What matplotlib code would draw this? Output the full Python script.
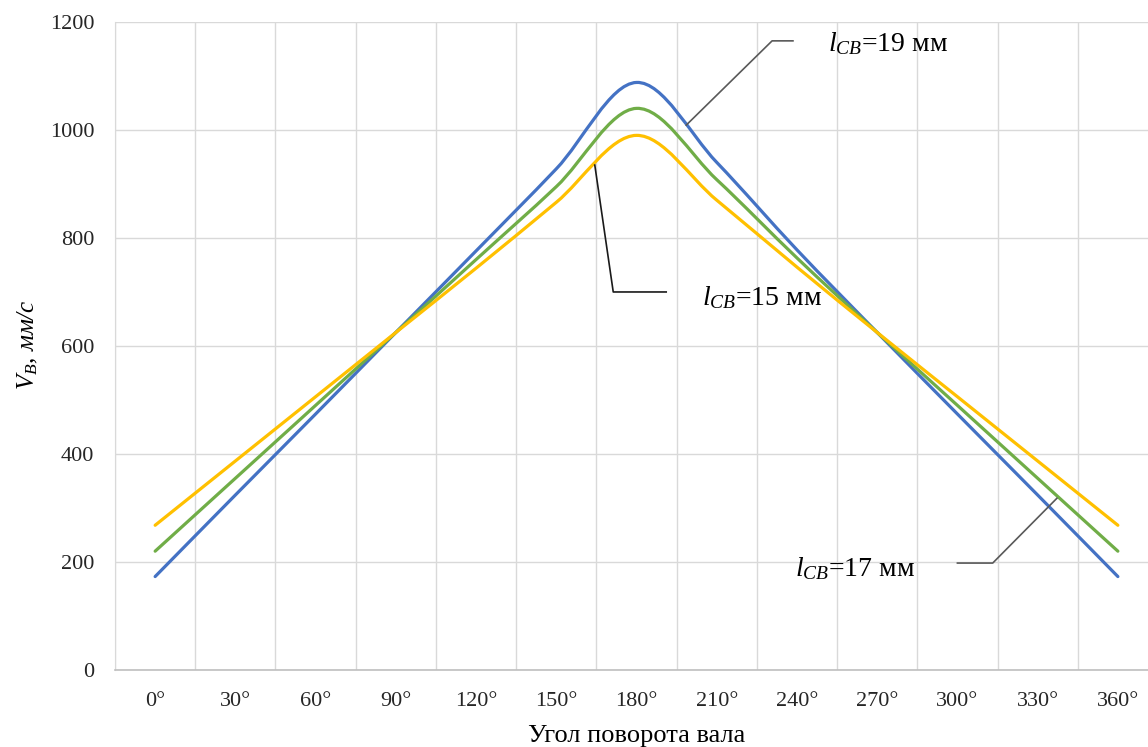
import numpy as np
import matplotlib.pyplot as plt
from matplotlib.path import Path
from matplotlib.patches import PathPatch

plt.rcParams['font.family'] = ['Liberation Serif', 'DejaVu Serif']
plt.rcParams['mathtext.fontset'] = 'custom'
plt.rcParams['mathtext.rm'] = 'Liberation Serif'
plt.rcParams['mathtext.it'] = 'Liberation Serif:italic'

angles = ['0°', '30°', '60°', '90°', '120°', '150°', '180°',
          '210°', '240°', '270°', '300°', '330°', '360°']
v_19 = [173, 324, 474, 625, 776, 928, 1088, 940, 778, 625, 474, 324, 173]
v_17 = [220, 355, 490, 625, 760, 895, 1040, 908, 763, 625, 490, 355, 220]
v_15 = [268, 387, 506, 625, 744, 866, 990, 870, 746, 625, 506, 387, 268]

colors = {'19': '#4472C4', '17': '#70AD47', '15': '#FFC000'}


def smooth_path(x, y):
    # Excel-style smoothed line: cubic Bezier segments, Catmull-Rom control points
    x = np.asarray(x, float)
    y = np.asarray(y, float)
    n = len(x)
    verts = [(x[0], y[0])]
    codes = [Path.MOVETO]
    for i in range(n - 1):
        p0 = i - 1 if i > 0 else i
        p3 = i + 2 if i + 2 < n else i + 1
        c1 = (x[i] + (x[i + 1] - x[p0]) / 6, y[i] + (y[i + 1] - y[p0]) / 6)
        c2 = (x[i + 1] - (x[p3] - x[i]) / 6, y[i + 1] - (y[p3] - y[i]) / 6)
        verts += [c1, c2, (x[i + 1], y[i + 1])]
        codes += [Path.CURVE4] * 3
    return Path(verts, codes)


fig = plt.figure(figsize=(11.48, 7.47), dpi=100)
ax = fig.add_axes([0.1002, 0.1031, 0.9085, 0.8675])

xs = np.arange(len(angles))
for vals, key in [(v_19, '19'), (v_17, '17'), (v_15, '15')]:
    ax.add_patch(PathPatch(smooth_path(xs, vals), facecolor='none',
                           edgecolor=colors[key], lw=2.3, capstyle='round',
                           zorder=3))

ax.set_xlim(-0.5, len(angles) - 0.5)
ax.set_ylim(0, 1200)
ax.set_yticks(np.arange(0, 1201, 200))
ax.set_xticks(xs)
ax.set_xticklabels(angles)
ax.set_xticks(np.arange(-0.5, len(angles), 1), minor=True)
ax.grid(True, which='minor', axis='x', color='#d9d9d9', lw=1)
ax.grid(True, which='major', axis='y', color='#d9d9d9', lw=1)
ax.tick_params(which='both', length=0)
ax.tick_params(axis='both', labelsize=16, labelcolor='#262626')
ax.tick_params(axis='x', pad=16)
ax.tick_params(axis='y', pad=15)
for s in ['top', 'right']:
    ax.spines[s].set_visible(False)
ax.spines['left'].set_color('#d9d9d9')
ax.spines['bottom'].set_color('#bfbfbf')
ax.spines['bottom'].set_linewidth(1.2)

ax.set_xlabel('Угол поворота вала', fontsize=19, labelpad=10)
fig.text(0.024, 0.538, r'$V_B$, мм/с', rotation=90, fontsize=18,
         fontstyle='italic', ha='center', va='center')

# leader lines and labels
lc = '#595959'
ax.plot([6.62, 7.69, 7.95], [1009, 1165, 1165], color=lc, lw=1.2, zorder=4)
ax.text(8.39, 1160, r'$l_{CB}$=19 мм', fontsize=20, va='center', ha='left')
ax.plot([5.48, 5.71, 6.37], [935, 700, 700], color='#1a1a1a', lw=1.2, zorder=4)
ax.text(6.82, 690, r'$l_{CB}$=15 мм', fontsize=20, va='center', ha='left')
ax.plot([11.24, 10.44, 10.0], [318, 198, 198], color=lc, lw=1.2, zorder=4)
ax.text(7.97, 188, r'$l_{CB}$=17 мм', fontsize=20, va='center', ha='left')

fig.savefig('out.png', dpi=100)
